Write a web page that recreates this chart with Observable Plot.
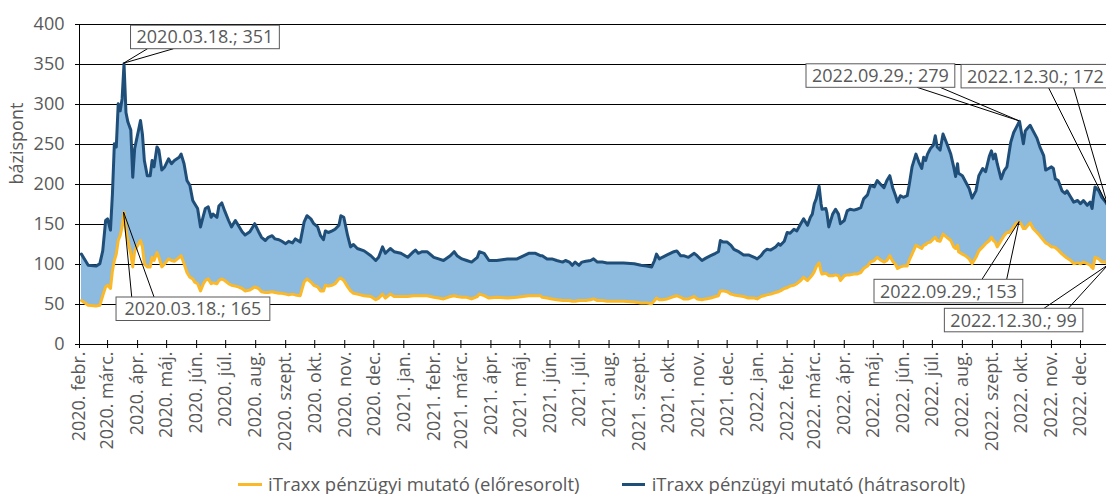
<!DOCTYPE html>
<html><head><meta charset="utf-8">
<script src="https://cdn.jsdelivr.net/npm/d3@7"></script>
<script src="https://cdn.jsdelivr.net/npm/@observablehq/plot@0.6"></script>
<style>
html,body{margin:0;padding:0;background:#fff;overflow:hidden}
#wrap{position:relative;width:1106px;height:494px;font-family:"Open Sans",sans-serif;color:#595959}
#wrap svg text{font-family:"Open Sans",sans-serif;font-size:18px}
.leg{position:absolute;top:475px;height:18px;font-size:18.5px;line-height:18px;white-space:nowrap;display:flex;align-items:center}
.sw{display:inline-block;width:23.5px;height:3px;margin-right:6.5px}
</style></head><body><div id="wrap"></div>
<script>
// ---- data ----
const dates = [
"2020-02-03","2020-02-10","2020-02-18","2020-02-22","2020-02-25","2020-02-28","2020-03-01","2020-03-04","2020-03-06","2020-03-08",
"2020-03-10","2020-03-12","2020-03-14","2020-03-16","2020-03-18","2020-03-20","2020-03-22","2020-03-25","2020-03-27","2020-03-29",
"2020-04-02","2020-04-04","2020-04-06","2020-04-08","2020-04-11","2020-04-14","2020-04-16","2020-04-18","2020-04-21","2020-04-23",
"2020-04-26","2020-04-29","2020-05-03","2020-05-06","2020-05-09","2020-05-14","2020-05-16","2020-05-19","2020-05-22","2020-05-25",
"2020-05-28","2020-05-30","2020-06-02","2020-06-05","2020-06-08","2020-06-10","2020-06-13","2020-06-16","2020-06-18","2020-06-22",
"2020-06-24","2020-06-27","2020-06-30","2020-07-04","2020-07-07","2020-07-11","2020-07-14","2020-07-18","2020-07-21","2020-07-26",
"2020-07-31","2020-08-04","2020-08-07","2020-08-11","2020-08-14","2020-08-18","2020-08-21","2020-08-25","2020-08-28","2020-09-01",
"2020-09-04","2020-09-08","2020-09-11","2020-09-16","2020-09-20","2020-09-23","2020-09-27","2020-09-30","2020-10-04","2020-10-07",
"2020-10-10","2020-10-12","2020-10-15","2020-10-19","2020-10-22","2020-10-26","2020-10-28","2020-10-31","2020-11-04","2020-11-07",
"2020-11-10","2020-11-14","2020-11-21","2020-11-28","2020-12-03","2020-12-06","2020-12-10","2020-12-13","2020-12-18","2020-12-22",
"2020-12-29","2021-01-05","2021-01-11","2021-01-13","2021-01-16","2021-01-20","2021-01-25","2021-02-01","2021-02-06","2021-02-11",
"2021-02-18","2021-02-22","2021-02-25","2021-03-02","2021-03-07","2021-03-12","2021-03-18","2021-03-20","2021-03-25","2021-03-30",
"2021-04-07","2021-04-18","2021-04-28","2021-05-10","2021-05-17","2021-05-22","2021-05-24","2021-05-29","2021-06-03","2021-06-08",
"2021-06-14","2021-06-17","2021-06-21","2021-06-24","2021-06-27","2021-07-01","2021-07-04","2021-07-08","2021-07-13","2021-07-16",
"2021-07-20","2021-07-25","2021-07-30","2021-08-06","2021-08-16","2021-08-27","2021-09-03","2021-09-09","2021-09-14","2021-09-17",
"2021-09-19","2021-09-22","2021-09-25","2021-09-30","2021-10-07","2021-10-10","2021-10-14","2021-10-17","2021-10-22","2021-10-28",
"2021-10-31","2021-11-05","2021-11-09","2021-11-14","2021-11-19","2021-11-22","2021-11-24","2021-11-27","2021-12-01","2021-12-05",
"2021-12-08","2021-12-13","2021-12-18","2021-12-23","2021-12-29","2022-01-01","2022-01-05","2022-01-08","2022-01-11","2022-01-15",
"2022-01-20","2022-01-23","2022-01-25","2022-01-29","2022-02-01","2022-02-04","2022-02-08","2022-02-11","2022-02-15","2022-02-18",
"2022-02-22","2022-02-25","2022-02-27","2022-03-01","2022-03-03","2022-03-06","2022-03-08","2022-03-09","2022-03-13","2022-03-14",
"2022-03-16","2022-03-20","2022-03-23","2022-03-26","2022-03-28","2022-04-01","2022-04-04","2022-04-07","2022-04-11","2022-04-14",
"2022-04-18","2022-04-21","2022-04-25","2022-04-28","2022-05-02","2022-05-05","2022-05-08","2022-05-12","2022-05-15","2022-05-18",
"2022-05-21","2022-05-24","2022-05-26","2022-05-29","2022-06-01","2022-06-05","2022-06-07","2022-06-10","2022-06-14","2022-06-17",
"2022-06-20","2022-06-22","2022-06-24","2022-06-26","2022-06-29","2022-07-02","2022-07-04","2022-07-06","2022-07-09","2022-07-12",
"2022-07-16","2022-07-20","2022-07-23","2022-07-25","2022-07-27","2022-07-28","2022-08-01","2022-08-04","2022-08-08","2022-08-11",
"2022-08-15","2022-08-18","2022-08-22","2022-08-25","2022-08-29","2022-08-31","2022-09-02","2022-09-04","2022-09-06","2022-09-10",
"2022-09-13","2022-09-16","2022-09-18","2022-09-20","2022-09-23","2022-09-26","2022-09-29","2022-10-01","2022-10-03","2022-10-05",
"2022-10-07","2022-10-10","2022-10-13","2022-10-17","2022-10-20","2022-10-24","2022-10-26","2022-10-29","2022-11-01","2022-11-03",
"2022-11-05","2022-11-08","2022-11-12","2022-11-15","2022-11-17","2022-11-21","2022-11-24","2022-11-28","2022-12-01","2022-12-04",
"2022-12-08","2022-12-11","2022-12-13","2022-12-14","2022-12-16","2022-12-20","2022-12-23","2022-12-27","2022-12-30"
];
// iTraxx pénzügyi mutató (hátrasorolt)
const subordinated = [
113,99,98,101,117,155,157,143,188,251,
247,301,292,307,351,290,278,268,209,245,
268,280,263,230,211,211,230,222,247,243,
218,222,232,226,230,234,238,226,205,199,
180,176,170,147,161,170,172,159,163,159,
173,177,167,155,147,155,149,141,137,141,
151,141,134,130,134,136,132,131,129,126,
129,127,132,128,153,161,157,151,147,136,
131,142,140,142,144,149,161,159,136,122,
125,120,117,111,105,109,122,114,120,116,
114,109,116,118,114,116,116,109,107,105,
111,116,111,107,105,103,109,116,114,105,
105,107,107,114,114,111,111,107,107,105,
103,105,103,99,103,99,103,104,105,107,
103,103,102,102,102,101,99,98,97,105,
113,107,109,112,116,117,111,111,109,114,
111,105,108,111,114,116,130,128,128,124,
119,116,112,112,109,107,111,116,119,118,
122,126,124,129,140,139,144,142,151,157,
149,159,163,176,182,198,176,169,170,165,
147,163,169,163,151,155,167,169,168,169,
171,182,187,199,197,205,201,196,205,211,
196,186,178,186,184,186,199,222,238,228,
220,234,230,238,245,249,261,247,243,263,
251,238,222,210,226,214,211,204,195,183,
192,211,220,216,236,242,232,238,226,207,
217,222,238,253,265,272,279,265,251,267,
270,274,267,258,247,236,218,220,222,220,
207,205,192,189,192,184,178,180,176,180,
174,178,170,180,197,192,184,178,172
];
// iTraxx pénzügyi mutató (előresorolt)
const senior = [
55,49,48,49,61,72,74,70,92,105,
113,130,136,147,165,142,130,113,97,117,
126,130,122,101,97,97,109,105,115,109,
97,101,107,105,104,109,111,101,90,84,
82,78,76,67,76,80,82,76,77,76,
80,82,80,76,74,73,72,70,67,68,
72,70,66,65,65,66,65,64,64,63,
62,63,62,61,78,82,78,74,72,67,
67,74,73,74,76,82,83,80,72,67,
64,63,61,60,56,58,63,58,63,60,
60,60,61,61,61,61,61,59,58,57,
60,61,60,59,59,57,60,63,61,58,
59,58,59,61,61,61,59,58,57,56,
55,55,55,54,54,55,55,55,56,57,
55,55,54,54,54,53,52,52,51,55,
58,56,56,57,60,61,59,57,57,60,
57,56,57,58,60,61,67,67,66,63,
62,61,60,58,58,57,60,61,62,63,
65,66,67,70,71,73,74,76,80,84,
80,84,87,91,97,102,91,88,89,88,
86,86,87,86,80,86,87,87,88,88,
90,95,98,103,105,109,106,103,105,111,
104,100,95,97,98,98,105,113,124,122,
120,124,125,127,128,132,134,130,129,138,
134,130,122,120,124,116,113,111,107,101,
109,117,122,126,130,134,130,128,122,130,
136,140,140,142,147,152,153,150,145,145,
148,152,145,140,136,130,127,125,122,122,
121,118,113,110,108,105,101,102,101,103,
101,99,96,95,109,107,103,103,99
];
const yTicks = [0, 50, 100, 150, 200, 250, 300, 350, 400];
const monthNames = ["jan.", "febr.", "márc.", "ápr.", "máj.", "jún.", "júl.", "aug.", "szept.", "okt.", "nov.", "dec."];
const seriesNames = ["iTraxx pénzügyi mutató (előresorolt)", "iTraxx pénzügyi mutató (hátrasorolt)"];
const yLabel = "bázispont";
const annDates = ["2020-03-18", "2020-03-18", "2022-09-29", "2022-09-29", "2022-12-30", "2022-12-30"];
const annValues = [351, 165, 279, 153, 172, 99];

// ---- layout / style ----
const colors = {senior: "#fbb929", sub: "#1f4e79", fill: "#8dbadf", text: "#595959"};
// box offset from the annotated point (px), leader attach points along the box edge (px from box left)
const annLayout = [
  {bx: 7, by: -38, la: 17, lb: 43, edge: "bottom", pad: 6},
  {bx: -7.5, by: 85, la: 15.7, lb: 38, edge: "top", pad: 8.5},
  {bx: -213, by: -57, la: 111, lb: 134, edge: "bottom", pad: 6},
  {bx: -145, by: 57.7, la: 108, lb: 132.7, edge: "top", pad: 6},
  {bx: -147, by: -142, la: 87.6, lb: 112.6, edge: "bottom", pad: 6},
  {bx: -163.7, by: 43.5, la: 99.7, lb: 124, edge: "top", pad: 6}
];

const parse = s => new Date(s + "T00:00:00Z");
const data = dates.map((d, i) => ({date: parse(d), hi: subordinated[i], lo: senior[i]}));
const start = parse("2020-02-01"), end = parse("2023-01-01");
const monthTicks = d3.utcMonth.range(start, end);
const fmtMonth = d => `${d.getUTCFullYear()}. ${monthNames[d.getUTCMonth()]}`;

const plot = Plot.plot({
  width: 1106, height: 470,
  marginLeft: 79, marginRight: 0, marginTop: 24, marginBottom: 126,
  style: {fontFamily: "Open Sans, sans-serif", fontSize: "18px", color: colors.text, background: "transparent", overflow: "visible"},
  x: {type: "utc", domain: [start, end], range: [79, 1110], ticks: monthTicks, tickFormat: fmtMonth,
      tickRotate: -90, tickSize: 0, tickPadding: 7, label: null},
  y: {domain: [0, 400], range: [344, 24], ticks: yTicks, tickSize: 0, tickPadding: 15, label: null},
  marks: [
    Plot.ruleY(yTicks, {stroke: "#000", strokeWidth: 1, insetLeft: -4}),
    Plot.areaY(data, {x: "date", y1: "lo", y2: "hi", fill: colors.fill}),
    Plot.line(data, {x: "date", y: "lo", stroke: colors.senior, strokeWidth: 3}),
    Plot.line(data, {x: "date", y: "hi", stroke: colors.sub, strokeWidth: 3}),
    Plot.ruleX([start], {stroke: "#000"}),
    Plot.ruleX(monthTicks, {y1: 0, y2: 0, insetTop: 4, insetBottom: 4, stroke: "#000"}),
    Plot.text([yLabel], {frameAnchor: "left", rotate: -90, dx: -62, text: d => d, fill: colors.text})
  ]
});
document.getElementById("wrap").appendChild(plot);

// ---- annotations (positioned through the plot's own scales) ----
const sx = plot.scale("x"), sy = plot.scale("y");
const fx = sx.apply ? (d => sx.apply(d)) : d3.scaleUtc(sx.domain, sx.range);
const fy = sy.apply ? (v => sy.apply(v)) : d3.scaleLinear(sy.domain, sy.range);
const svg = d3.select(plot);
const leaders = svg.append("g");
const boxes = svg.append("g");
annDates.forEach((ds, i) => {
  const L = annLayout[i];
  const px = fx(parse(ds)), py = fy(annValues[i]);
  const label = ds.replace(/-/g, ".") + ".; " + annValues[i];
  const gg = boxes.append("g");
  const rect = gg.append("rect");
  const t = gg.append("text").text(label).attr("fill", colors.text).attr("text-anchor", "start")
    .style("font-family", "Open Sans, sans-serif").style("font-size", "18px");
  const tw = t.node().getComputedTextLength();
  const bw = tw + 2 * L.pad, bh = 23.5;
  const bx = px + L.bx, by = py + L.by;
  rect.attr("x", bx).attr("y", by).attr("width", bw).attr("height", bh)
    .attr("fill", "#fff").attr("stroke", "#595959").attr("stroke-width", 1);
  t.attr("x", bx + L.pad).attr("y", by + bh / 2).attr("dy", "0.36em");
  const ey = L.edge === "bottom" ? by + bh : by;
  leaders.append("path")
    .attr("d", `M${px},${py}L${bx + L.la},${ey}M${px},${py}L${bx + L.lb},${ey}`)
    .attr("fill", "none").attr("stroke", "#000").attr("stroke-width", 1);
});

// ---- legend ----
const wrap = document.getElementById("wrap");
[[seriesNames[0], colors.senior, 238], [seriesNames[1], colors.sub, 621.7]].forEach(([name, c, left]) => {
  const div = document.createElement("div");
  div.className = "leg";
  div.style.left = left + "px";
  div.innerHTML = `<span class="sw" style="background:${c}"></span><span>${name}</span>`;
  wrap.appendChild(div);
});
</script></body></html>
